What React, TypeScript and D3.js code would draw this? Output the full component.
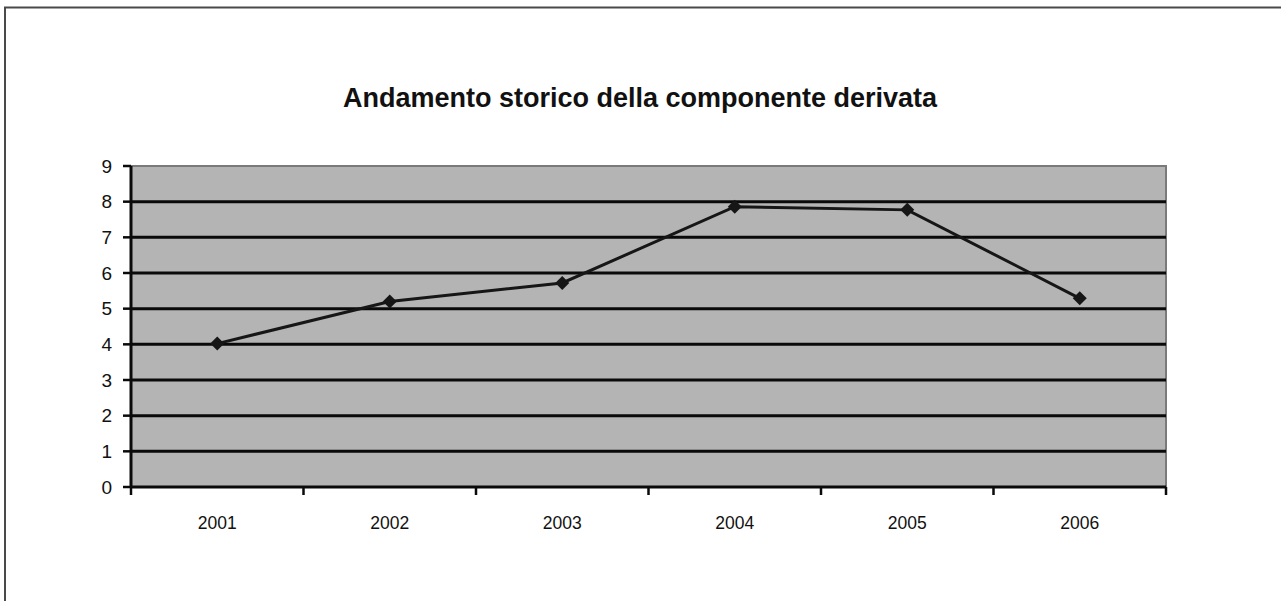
import React from "react";
import * as d3 from "d3";

const years = ["2001", "2002", "2003", "2004", "2005", "2006"];
const values = [4.02, 5.2, 5.72, 7.86, 7.77, 5.29];
const yTicks = [0, 1, 2, 3, 4, 5, 6, 7, 8, 9];
const title = "Andamento storico della componente derivata";

export default function App() {
  const W = 1281, H = 601;
  const left = 131, right = 1166, top = 166, bottom = 487;
  const x = d3.scaleBand<string>().domain(years).range([left, right]);
  const y = d3.scaleLinear().domain([0, 9]).range([bottom, top]);
  const line = d3
    .line<number>()
    .x((_, i) => (x(years[i]) as number) + x.bandwidth() / 2)
    .y((d) => y(d));
  const font = "'Liberation Sans', Arial, sans-serif";
  const boundaries = years.map((yr) => x(yr) as number).concat([right]);
  return (
    <svg width={W} height={H} style={{ position: "absolute", left: 0, top: 0, background: "#fff" }}>
      <rect x={5} y={7.5} width={W + 20} height={H + 20} fill="#fff" stroke="#4a4a4a" strokeWidth={2} />
      <text x={640} y={107} textAnchor="middle" fontFamily={font} fontWeight="bold" fontSize={27} fill="#111">
        {title}
      </text>
      <rect x={left} y={top} width={right - left} height={bottom - top} fill="#b4b4b4" stroke="#7a7a7a" strokeWidth={2} />
      {yTicks.map((t) => (
        <g key={t}>
          {t > 0 && t < 9 && (
            <line x1={left} x2={right} y1={y(t)} y2={y(t)} stroke="#0a0a0a" strokeWidth={3} />
          )}
          <line x1={left - 8} x2={left} y1={y(t)} y2={y(t)} stroke="#0a0a0a" strokeWidth={2.5} />
          <text x={left - 19} y={y(t)} dy="0.35em" textAnchor="end" fontFamily={font} fontSize={19} fill="#111">
            {t}
          </text>
        </g>
      ))}
      <line x1={left} x2={left} y1={top} y2={bottom} stroke="#0a0a0a" strokeWidth={3} />
      <line x1={left} x2={right} y1={bottom} y2={bottom} stroke="#0a0a0a" strokeWidth={3} />
      {boundaries.map((b, i) => (
        <line key={i} x1={b} x2={b} y1={bottom} y2={bottom + 8} stroke="#0a0a0a" strokeWidth={2.5} />
      ))}
      {years.map((yr) => (
        <text
          key={yr}
          x={(x(yr) as number) + x.bandwidth() / 2}
          y={529}
          textAnchor="middle"
          fontFamily={font}
          fontSize={17.5}
          fill="#111"
        >
          {yr}
        </text>
      ))}
      <path d={line(values) || ""} fill="none" stroke="#161616" strokeWidth={3} />
      {values.map((v, i) => {
        const cx = (x(years[i]) as number) + x.bandwidth() / 2;
        const cy = y(v);
        return (
          <path
            key={i}
            d={`M${cx},${cy - 7}L${cx + 7},${cy}L${cx},${cy + 7}L${cx - 7},${cy}Z`}
            fill="#161616"
          />
        );
      })}
    </svg>
  );
}
